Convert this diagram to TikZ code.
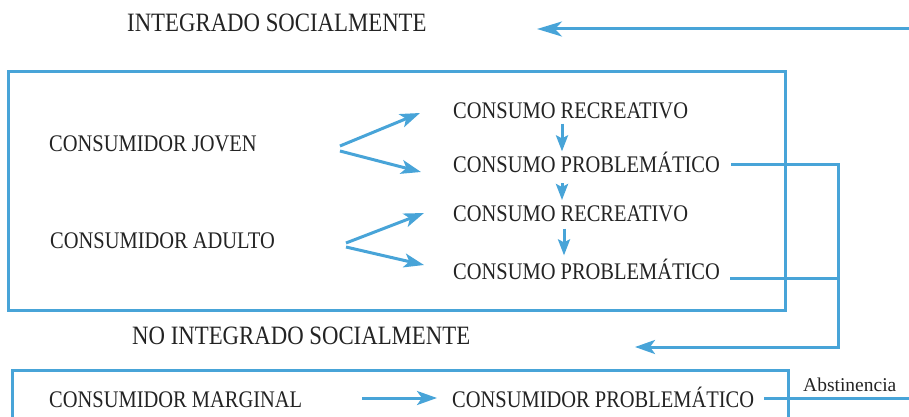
\documentclass[tikz,border=0pt]{standalone}
\usepackage{fontspec}
\setmainfont[FakeStretch=0.86]{Liberation Serif}
\newfontfamily\serifnormal{Liberation Serif}
\usepackage{xcolor}
\usepackage{tikz}
\usetikzlibrary{arrows.meta, calc, positioning}

\definecolor{azul}{RGB}{72,164,216}
\definecolor{tinta}{RGB}{35,35,35}

\begin{document}
\begin{tikzpicture}[x=1pt, y=-1pt,
  texto/.style={anchor=base west, inner sep=0pt, text=tinta, font=\fontsize{23.8}{26}\selectfont},
  titulo/.style={texto, font=\fontsize{26.5}{29}\selectfont},
  linea/.style={azul, line width=3pt},
  flecha/.style={linea, -{Stealth[length=20pt, width=14pt, inset=5pt]}},
  flechita/.style={linea, -{Stealth[length=16pt, width=12pt, inset=3pt]}}]

\clip (0,0) rectangle (909,417);

% Integrado socialmente
\node[titulo] (integrado) at (127,32) {INTEGRADO SOCIALMENTE};
\coordinate (entrada) at (909,29);
\coordinate (llegada) at (537,29);
\draw[linea, -{Stealth[length=25pt, width=15pt, inset=7pt]}] (entrada) -- (llegada);

\draw[linea] (8,72) rectangle (785,310);

\node[texto] (joven) at (49,151) {CONSUMIDOR JOVEN};
\node[texto] (adulto) at (50,248) {CONSUMIDOR ADULTO};
\node[texto] (recA) at (453,118) {CONSUMO RECREATIVO};
\node[texto] (probA) at (453,172) {CONSUMO PROBLEMÁTICO};
\node[texto] (recB) at (453,221) {CONSUMO RECREATIVO};
\node[texto] (probB) at (453,279) {CONSUMO PROBLEMÁTICO};

\draw[flecha] ([xshift=83pt, yshift=5pt]joven.base east) -- ([xshift=-33pt, yshift=5pt]recA.base west);
\draw[flecha] ([xshift=83pt]joven.base east) -- ([xshift=-32pt]probA.base west);
\draw[flecha] ([xshift=71pt, yshift=5pt]adulto.base east) -- ([xshift=-29pt, yshift=8pt]recB.base west);
\draw[flecha] ([xshift=71pt, yshift=1pt]adulto.base east) -- ([xshift=-29pt, yshift=14pt]probB.base west);

% paso de recreativo a problematico
\coordinate (colA) at (562,0);
\coordinate (colB) at (564,0);
\draw[flechita, shorten <=5pt] (recA.south -| colA) -- (probA.north -| colA);
\draw[flechita, shorten <=11pt, shorten >=5pt] (probA.south -| colA) -- (recB.north -| colA);
\draw[flechita, shorten <=7pt, shorten >=3pt] (recB.south -| colB) -- (probB.north -| colB);

% salida hacia no integrado
\coordinate (bajada) at (838,347);
\coordinate (vuelta) at (635,347);
\draw[flecha] ([xshift=11pt, yshift=8pt]probA.base east) -| (bajada) -- (vuelta);
\draw[linea] ([xshift=10pt, yshift=1pt]probB.base east) coordinate (salB) -- (salB -| bajada);

% No integrado socialmente
\node[titulo] (nointegrado) at (132,344) {NO INTEGRADO SOCIALMENTE};

\draw[linea] (12,370) rectangle (788,430);

\node[texto] (marginal) at (49,407) {CONSUMIDOR MARGINAL};
\node[texto] (probM) at (452,407) {CONSUMIDOR PROBLEMÁTICO};
\draw[flecha] ([xshift=60pt, yshift=9pt]marginal.base east) -- ([xshift=-15pt, yshift=9pt]probM.base west);

\coordinate (borde) at (912,0);
\draw[linea] ([xshift=10pt, yshift=9pt]probM.base east) coordinate (salM) -- (salM -| borde);
\node[anchor=base west, inner sep=0pt, text=tinta, font=\serifnormal\fontsize{19.5}{22}\selectfont] (abst) at (803,391) {Abstinencia};

\end{tikzpicture}
\end{document}
